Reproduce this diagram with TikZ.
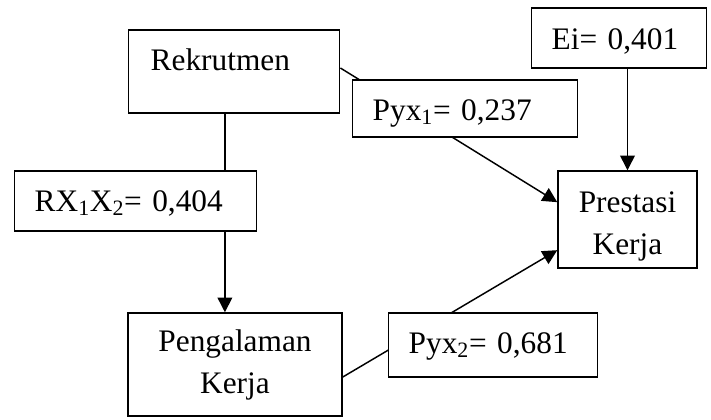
\documentclass[tikz,border=0pt]{standalone}
\usepackage{fontspec}
\setmainfont{Liberation Serif}
\usetikzlibrary{arrows.meta}

\begin{document}
\begin{tikzpicture}[->,>={Triangle[length=11pt,width=11pt]},x=0.75pt,y=-0.75pt,
                    line width=1.1pt,font=\fontsize{23.5}{31.5}\selectfont,
                    var node/.style={draw,align=center,inner sep=0pt},
                    coef node/.style={draw,fill=white,align=left,anchor=base west,
                                      inner xsep=15pt,inner ysep=0pt}]
    \useasboundingbox (0,0) rectangle (711,419);

    \node[coef node,inner xsep=16.5pt,text width=125.25pt,text height=30pt,text depth=32.25pt] (rek) at (128,70) {Rekrutmen};
    \node[var node,minimum width=160.5pt,minimum height=77.25pt] (pen) at (235,364.5) {Pengalaman\\Kerja};
    \node[var node,minimum width=104.25pt,minimum height=72.75pt,text height=53pt,text depth=0pt] (pres) at (627.5,219.5) {Prestasi\\Kerja};
    \node[coef node,text width=101.25pt,text height=30.75pt,text depth=14.25pt] (ei) at (531,49) {Ei= 0,401};

    \draw ([xshift=-7pt]rek.south) -- ([xshift=-7pt]rek.south |- pen.north);
    \draw ([yshift=2.6pt]rek.east) -- ([yshift=13pt]pres.west);
    \draw ([yshift=-9.4pt]pen.east) -- ([yshift=-23pt]pres.west);
    \draw (pres.north |- ei.south) -- (pres.north);

    \node[coef node,text width=151.5pt,text height=30pt,text depth=15pt] (rx) at (14,211) {RX\textsubscript{1}X\textsubscript{2}= 0,404};
    \node[coef node,text width=138.75pt,text height=30pt,text depth=12.75pt] (pyx1) at (352,120) {Pyx\textsubscript{1}= 0,237};
    \node[coef node,text width=126.75pt,text height=30pt,text depth=18pt] (pyx2) at (388,353) {Pyx\textsubscript{2}= 0,681};
\end{tikzpicture}
\end{document}
